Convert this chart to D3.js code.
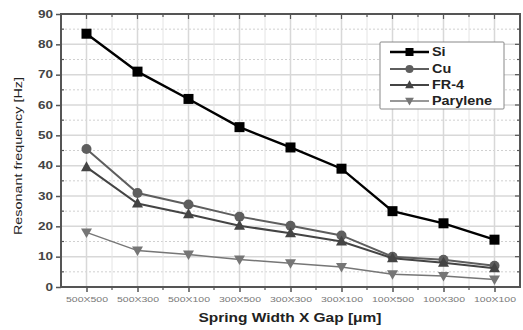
<!DOCTYPE html>
<html><head><meta charset="utf-8">
<script src="https://cdn.jsdelivr.net/npm/d3@7"></script>
<style>body{margin:0;background:#fff}svg{display:block}</style>
</head><body>
<svg id="c" width="523" height="330"></svg>
<script>
const categories = ["500X500","500X300","500X100","300X500","300X300","300X100","100X500","100X300","100X100"];
const si = [83.5, 71, 62, 52.7, 46, 39, 25, 21, 15.6];
const cu = [45.5, 31, 27.2, 23.2, 20.2, 17, 10, 9, 7];
const fr4 = [39.5, 27.5, 24, 20.2, 17.7, 15, 9.5, 8, 6.2];
const parylene = [18, 12, 10.7, 9.1, 7.8, 6.6, 4.2, 3.6, 2.5];
const yTicks = [0,10,20,30,40,50,60,70,80,90];

const series = [
  {name:"Si", values:si, color:"#000", width:2.4, shape:"square"},
  {name:"Cu", values:cu, color:"#5e5e5e", width:2, shape:"circle"},
  {name:"FR-4", values:fr4, color:"#444", width:2, shape:"triangle"},
  {name:"Parylene", values:parylene, color:"#767676", width:1.5, shape:"tridown"}
];

const svg = d3.select("#c");
const L=61, R=520, T=14, B=287;
const x = d3.scalePoint().domain(categories).range([L, R]).padding(0.5);
const y = d3.scaleLinear().domain([0,90]).range([B, T]);
const step = x.step();

function stretch(sel, k){ sel.each(function(){ const w=this.getComputedTextLength(); d3.select(this).attr("textLength", w*k).attr("lengthAdjust","spacingAndGlyphs"); }); }

// grid
const g = svg.append("g");
yTicks.forEach(v=>{ if(v>0&&v<90) g.append("line").attr("x1",L).attr("x2",R).attr("y1",y(v)).attr("y2",y(v)).attr("stroke","#d8d8d8").attr("stroke-width",1.5); });
d3.range(5,90,10).forEach(v=>g.append("line").attr("x1",L).attr("x2",R).attr("y1",y(v)).attr("y2",y(v)).attr("stroke","#d0d0d0").attr("stroke-width",1).attr("stroke-dasharray","2,2"));
categories.forEach(c=>g.append("line").attr("x1",x(c)).attr("x2",x(c)).attr("y1",T).attr("y2",B).attr("stroke","#d8d8d8").attr("stroke-width",1.5));
categories.forEach((c,i)=>{ if(i<categories.length-1) g.append("line").attr("x1",x(c)+step/2).attr("x2",x(c)+step/2).attr("y1",T).attr("y2",B).attr("stroke","#e4e4e4").attr("stroke-width",1); });

// axes
const axCol="#555";
const yAxis = d3.axisLeft(y).tickValues(yTicks).tickSize(5).tickPadding(3);
const ya = svg.append("g").attr("transform",`translate(${L},0)`).call(yAxis);
ya.select(".domain").remove();
ya.selectAll("line").attr("stroke",axCol).attr("stroke-width",1.5);
ya.selectAll("text").attr("fill","#444").style("font","bold 10px 'Liberation Sans', Arial, sans-serif").call(stretch,1.35);

const xAxis = d3.axisBottom(x).tickSize(5).tickPadding(5);
const xa = svg.append("g").attr("transform",`translate(0,${B})`).call(xAxis);
xa.select(".domain").remove();
xa.selectAll("line").attr("stroke",axCol).attr("stroke-width",1.5);
xa.selectAll("text").attr("fill","#777").style("font","7.5px 'Liberation Sans', Arial, sans-serif").attr("textLength",42).attr("lengthAdjust","spacingAndGlyphs");

// minor ticks
const mt = svg.append("g").attr("stroke",axCol).attr("stroke-width",1.2);
d3.range(5,90,10).forEach(v=>{
  mt.append("line").attr("x1",L).attr("x2",L+3).attr("y1",y(v)).attr("y2",y(v));
  mt.append("line").attr("x1",R).attr("x2",R-3).attr("y1",y(v)).attr("y2",y(v));
});
yTicks.forEach(v=>mt.append("line").attr("x1",R).attr("x2",R-5).attr("y1",y(v)).attr("y2",y(v)));
categories.forEach((c,i)=>{
  mt.append("line").attr("x1",x(c)).attr("x2",x(c)).attr("y1",T).attr("y2",T+5);
  if(i<categories.length-1){
    mt.append("line").attr("x1",x(c)+step/2).attr("x2",x(c)+step/2).attr("y1",T).attr("y2",T+3);
    mt.append("line").attr("x1",x(c)+step/2).attr("x2",x(c)+step/2).attr("y1",B).attr("y2",B+3);
  }
});

// frame
svg.append("rect").attr("x",L).attr("y",T).attr("width",R-L).attr("height",B-T).attr("fill","none").attr("stroke","#555").attr("stroke-width",2);

// series
function marker(sel, shape, color, s){
  if(shape==="square") sel.append("rect").attr("x",-s).attr("y",-s).attr("width",2*s).attr("height",2*s).attr("fill",color);
  else if(shape==="circle") sel.append("circle").attr("r",s).attr("fill",color);
  else if(shape==="triangle") sel.append("path").attr("d",`M0,${-s*1.2}L${s*1.1},${s*0.8}L${-s*1.1},${s*0.8}Z`).attr("fill",color);
  else sel.append("path").attr("d",`M0,${s*1.1}L${s*1.1},${-s*0.8}L${-s*1.1},${-s*0.8}Z`).attr("fill",color);
}
const line = d3.line().x((d,i)=>x(categories[i])).y(d=>y(d));
series.forEach(s=>{
  svg.append("path").datum(s.values).attr("d",line).attr("fill","none").attr("stroke",s.color).attr("stroke-width",s.width);
  s.values.forEach((v,i)=>{
    const m = svg.append("g").attr("transform",`translate(${x(categories[i])},${y(v)})`);
    marker(m, s.shape, s.color, 5);
  });
});

// legend
const lg = svg.append("g");
lg.append("rect").attr("x",380).attr("y",42).attr("width",124).attr("height",67).attr("fill","#fff").attr("stroke","#888").attr("stroke-width",1).attr("rx",1);
const ly=[52,69,85,101];
series.forEach((s,i)=>{
  lg.append("line").attr("x1",390).attr("x2",429).attr("y1",ly[i]).attr("y2",ly[i]).attr("stroke",s.color).attr("stroke-width",s.width);
  const m = lg.append("g").attr("transform",`translate(409.5,${ly[i]})`);
  marker(m, s.shape, s.color, 4);
  lg.append("text").attr("x",432).attr("y",ly[i]).attr("dy","0.36em").attr("fill","#222").style("font","bold 12px 'Liberation Sans', Arial, sans-serif").text(s.name).call(stretch,1.2);
});

// axis titles
svg.append("text").attr("x",290).attr("y",322).attr("text-anchor","middle").attr("fill","#222").style("font","bold 12.5px 'Liberation Sans', Arial, sans-serif").text("Spring Width X Gap [μm]").attr("textLength",183).attr("lengthAdjust","spacingAndGlyphs");
svg.append("text").attr("transform",`translate(22,156) rotate(-90)`).attr("text-anchor","middle").attr("fill","#222").style("font","11px 'Liberation Sans', Arial, sans-serif").text("Resonant frequency [Hz]").attr("textLength",158).attr("lengthAdjust","spacingAndGlyphs");
</script>
</body></html>
